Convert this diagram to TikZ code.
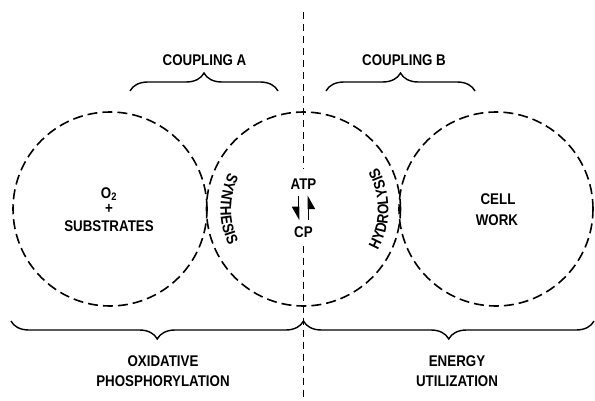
\documentclass[tikz,border=0pt]{standalone}
\usepackage{fontspec}
\setmainfont{Liberation Sans}[FakeStretch=0.86]
\usetikzlibrary{arrows.meta,decorations.pathreplacing,decorations.text}

\newcommand{\lbl}{\bfseries\fontsize{15.5}{20.5}\selectfont}

\begin{document}
\begin{tikzpicture}[x=1pt,y=1pt,
    pool/.style={circle,draw,dash pattern=on 10pt off 5pt,line width=1.6pt,minimum size=194pt,inner sep=0pt},
    word/.style={font=\lbl,inner sep=1pt,align=center},
    divider/.style={line width=1.5pt,dash pattern=on 7pt off 5pt},
    harp/.style={line width=1.7pt,-{Triangle[right,length=12pt,width=13pt]}},
    bracket/.style={line width=1.4pt,decorate,decoration={brace,amplitude=18pt}},
    mbracket/.style={line width=1.4pt,decorate,decoration={brace,mirror,amplitude=18pt}}]
\useasboundingbox (0,0) rectangle (595,400);

\node[pool] (ox) at (110,191) {};
\node[pool] (atpcp) at (303.5,191) {};
\node[pool] (work) at (496,191) {};

\node[word] (o2) at (109,206) {O\textsubscript{2}};
\node[word] (plus) at (109,191) {+};
\node[word] (sub) at (109,174) {SUBSTRATES};
\node[word] (atp) at (303.5,216) {ATP};
\node[word] (cp) at (303.5,168) {CP};
\node[word] (cell) at (498,201) {CELL};
\node[word] (wrk) at (497,180) {WORK};

\node[word] (ca) at (204.5,340) {COUPLING A};
\node[word] (cb) at (404,340) {COUPLING B};
\node[word] (oxp) at (163,29) {OXIDATIVE\\PHOSPHORYLATION};
\node[word] (eu) at (457,29) {ENERGY\\UTILIZATION};

\coordinate (a1) at (130,309);
\coordinate (a2) at (278,309);
\coordinate (b1) at (326,309);
\coordinate (b2) at (475,309);
\coordinate (l1) at (11,79);
\coordinate (m1) at (303.5,79);
\coordinate (r1) at (594,79);
\coordinate (top) at (303.5,388);
\coordinate (bot) at (303.5,0);

\draw[divider,shorten >=8pt] (top) -- (atp.north);
\draw[divider,shorten <=7pt] (cp.south) -- (bot);

\draw[bracket] (a1) -- (a2);
\draw[bracket] (b1) -- (b2);
\draw[mbracket] (l1) -- (m1);
\draw[mbracket] (m1) -- (r1);

\draw[harp,shorten <=5pt,shorten >=5pt] ([xshift=-5pt]atp.south) -- ([xshift=-5pt]cp.north);
\draw[harp,shorten <=5pt,shorten >=5pt] ([xshift=5pt]cp.north) -- ([xshift=5pt]atp.south);

\path[decorate,decoration={text along path,text={|\lbl|SYNTHESIS},text align=center}]
  ([shift={(140:83)}]atpcp.center) arc[start angle=140,end angle=220,radius=83];
\path[decorate,decoration={text along path,text={|\lbl|HYDROLYSIS},text align=center}]
  ([shift={(-40:85)}]atpcp.center) arc[start angle=-40,end angle=40,radius=85];
\end{tikzpicture}
\end{document}
